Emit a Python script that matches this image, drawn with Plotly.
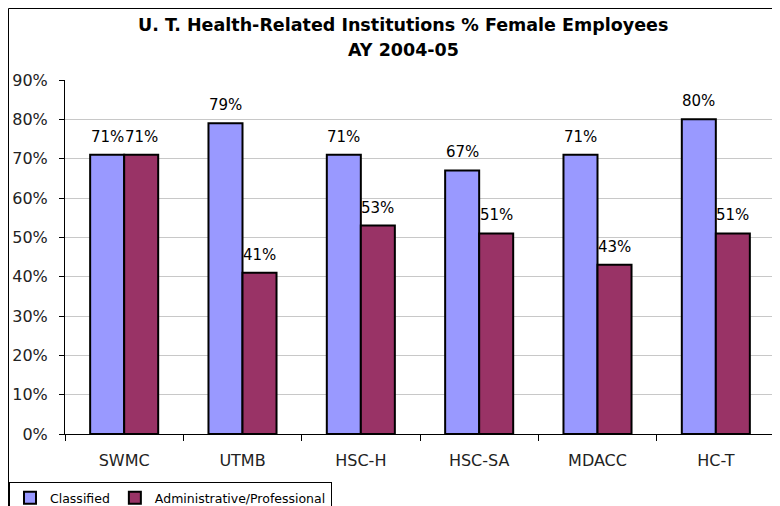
import plotly.graph_objects as go

categories = ["SWMC", "UTMB", "HSC-H", "HSC-SA", "MDACC", "HC-T"]
classified = [71, 79, 71, 67, 71, 80]
admin_prof = [71, 41, 53, 51, 43, 51]
y_ticks = [0, 10, 20, 30, 40, 50, 60, 70, 80, 90]
y_tick_labels = [f"{v}%" for v in y_ticks]
series_names = ["Classified", "Administrative/Professional"]
title_lines = ["U. T. Health-Related Institutions % Female Employees", "AY 2004-05"]

FONT = "DejaVu Sans"
OFF = 8  # page body margin offset
W, H = 780 - OFF, 506 - OFF
# plot area in screenshot pixels: x 65..775, y 80..434
L, R, T, B = 65 - OFF, 780 - 775, 80 - OFF, 506 - 434
pw, ph = W - L - R, H - T - B

fig = go.Figure()
fig.add_trace(go.Bar(x=categories, y=classified, name=series_names[0],
                     marker=dict(color="#9999FF", line=dict(color="black", width=2))))
fig.add_trace(go.Bar(x=categories, y=admin_prof, name=series_names[1],
                     marker=dict(color="#993366", line=dict(color="black", width=2))))

# data labels
for vals, sh in ((classified, -17), (admin_prof, 17)):
    for c, v in zip(categories, vals):
        fig.add_annotation(x=c, y=v, text=f"{v}%", showarrow=False, xshift=sh, yshift=18,
                           yanchor="middle", font=dict(family=FONT, size=15, color="black"))

def px_x(p):  # screenshot px -> paper
    return (p - OFF - L) / pw

def px_y(p):
    return (H - B - (p - OFF)) / ph

# title lines
for line, yc in zip(title_lines, (25, 50)):
    fig.add_annotation(xref="paper", yref="paper", x=px_x(403), y=px_y(yc),
                       text=f"<b>{line}</b>", showarrow=False, xanchor="center", yanchor="middle",
                       font=dict(family=FONT, size=17.5, color="black"))

# outer border
fig.add_shape(type="rect", xref="paper", yref="paper", x0=px_x(8.5), x1=px_x(800),
              y0=px_y(530), y1=px_y(8.5), line=dict(color="black", width=1), layer="below")
# right plot border (gray)
fig.add_shape(type="line", xref="paper", yref="paper", x0=1, x1=1, y0=0, y1=1,
              line=dict(color="#a0a0a0", width=1))

fig.update_layout(
    width=W, height=H,
    margin=dict(l=L, r=R, t=T, b=B, autoexpand=False),
    paper_bgcolor="white", plot_bgcolor="white",
    font=dict(family=FONT, color="black"),
    barmode="group", bargap=0.425, bargroupgap=0,
    xaxis=dict(showline=True, linecolor="black", linewidth=1,
               ticks="outside", tickson="boundaries", ticklen=6, tickcolor="black",
               tickfont=dict(family=FONT, size=16, color="#222"),
               ticklabelstandoff=12, showgrid=False),
    yaxis=dict(range=[0, 90], tickvals=y_ticks, ticktext=y_tick_labels,
               showline=True, linecolor="black", linewidth=1,
               ticks="outside", ticklen=5, tickcolor="black",
               tickfont=dict(family=FONT, size=16, color="#222"),
               ticklabelstandoff=8,
               showgrid=True, gridcolor="#c8c8c8", gridwidth=1, zeroline=False),
    legend=dict(orientation="h", x=px_x(9), xanchor="left", y=px_y(482), yanchor="top",
                bordercolor="black", borderwidth=1, bgcolor="white",
                font=dict(family=FONT, size=12.5, color="black"),
                itemwidth=30, tracegroupgap=0),
    showlegend=True,
)

fig.write_html("out.html")
